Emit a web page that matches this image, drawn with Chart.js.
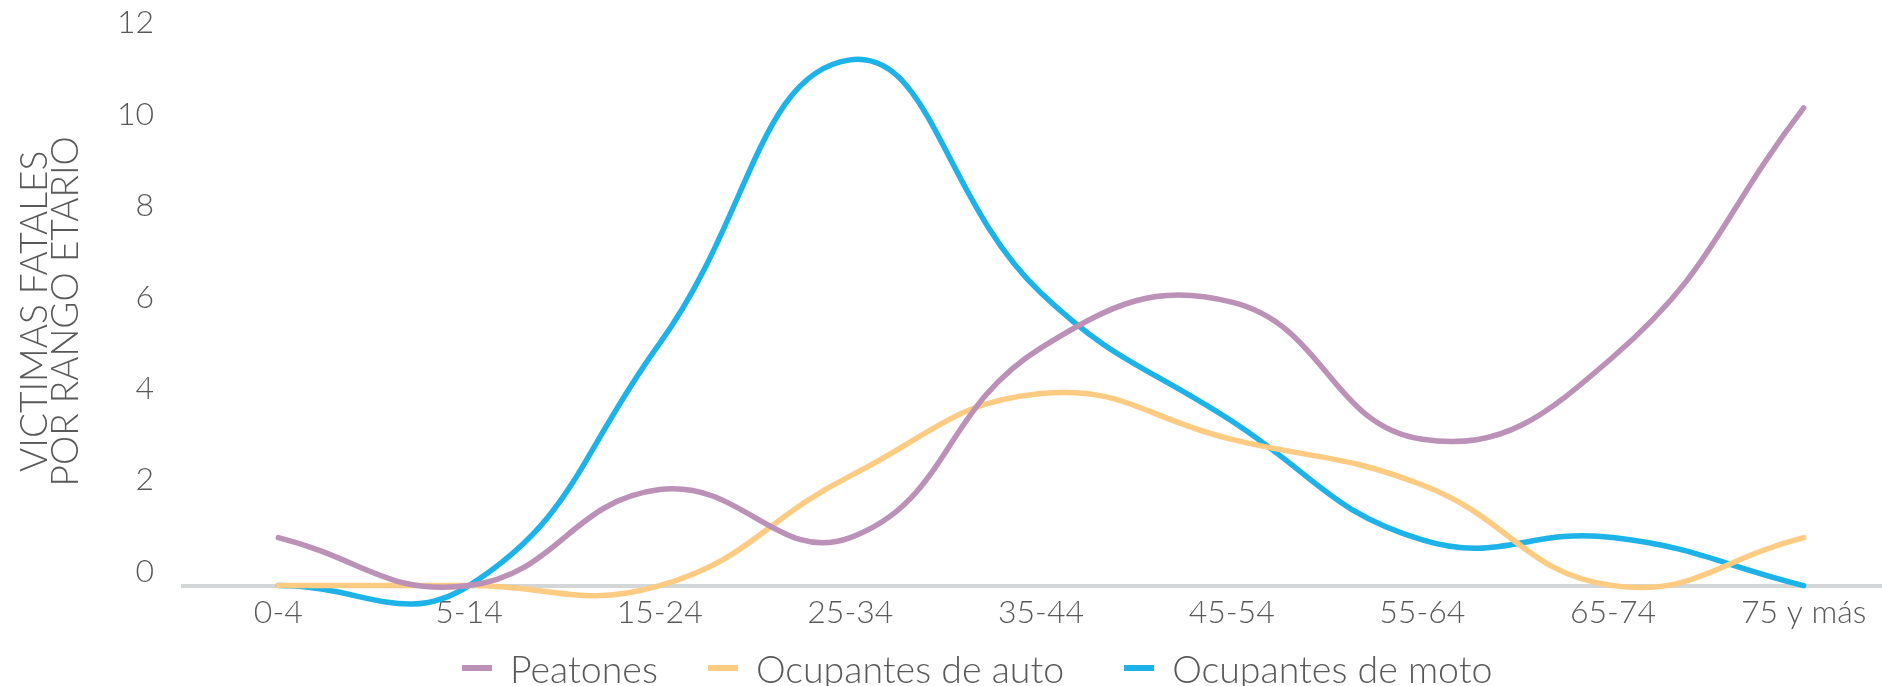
<!DOCTYPE html>
<html>
<head>
<meta charset="utf-8">
<script src="https://cdn.jsdelivr.net/npm/chart.js@4.4.1/dist/chart.umd.min.js"></script>
<style>
  html, body { margin: 0; padding: 0; background: #fff; overflow: hidden; }
  #wrap { position: relative; width: 1882px; height: 686px; overflow: hidden; }
  #leyenda {
    position: absolute; left: 462px; top: 648px; height: 40px;
    display: flex; align-items: center;
    font-family: Lato, sans-serif; font-weight: 300; font-size: 37.5px; color: #595959;
  }
  .item { display: flex; align-items: center; margin-right: 50px; }
  .item:nth-child(2) { margin-right: 60px; }
  .marca { width: 30px; height: 6px; margin-right: 18px; }
</style>
</head>
<body>
<div id="wrap">
  <canvas id="grafica" width="1899" height="686"></canvas>
  <div id="leyenda"></div>
</div>
<script>
const rangos = ['0-4', '5-14', '15-24', '25-34', '35-44', '45-54', '55-64', '65-74', '75 y más'];
const peatones = [1.05, 0, 2.1, 1.05, 5.2, 6.2, 3.2, 5, 10.45];
const autos = [0, 0, 0, 2.4, 4.2, 3.2, 2.2, 0, 1.05];
const motos = [0, 0, 5.3, 11.5, 6.4, 3.6, 1.0, 1.05, 0];
const ticksY = [0, 2, 4, 6, 8, 10, 12];

const colores = ['#bb91b7', '#fecb83', '#1db3e8'];
const nombres = ['Peatones', 'Ocupantes de auto', 'Ocupantes de moto'];
const series = [peatones, autos, motos];

const fuente = 'Lato, sans-serif';

const datasets = series.map((valores, i) => ({
    label: nombres[i],
    data: valores,
    borderColor: colores[i],
    backgroundColor: colores[i],
    borderWidth: 5.5,
    borderCapStyle: 'round',
    pointRadius: 0,
    tension: 0.45,
    capBezierPoints: false,
    clip: false,
    fill: false
}));

const instancia = document.getElementById('grafica').getContext('2d');
const myChart = new Chart(instancia, {
    type: 'line',
    data: { labels: rangos, datasets: datasets },
    options: {
        responsive: false,
        animation: false,
        layout: { padding: { top: 37, right: 0, bottom: 46, left: 0 } },
        plugins: {
            legend: { display: false },
            tooltip: { enabled: false }
        },
        scales: {
            x: {
                offset: true,
                grid: { display: false, drawTicks: false },
                border: { display: true, color: '#d4d7d7', width: 4, z: -1 },
                ticks: {
                    padding: 8,
                    color: '#595959',
                    font: { family: fuente, size: 32, weight: 300 }
                }
            },
            y: {
                min: 0,
                max: 12,
                afterFit: (scale) => {
                    scale.width = 183;
                    scale.paddingTop = 0;
                    scale.paddingBottom = 0;
                },
                afterBuildTicks: (scale) => { scale.ticks = ticksY.map(v => ({ value: v })); },
                grid: { display: false, drawTicks: false },
                border: { display: false },
                ticks: {
                    padding: 29,
                    labelOffset: -14,
                    color: '#595959',
                    font: { family: fuente, size: 32, weight: 300 }
                },
                title: {
                    display: true,
                    text: ['VICTIMAS FATALES', 'POR RANGO ETARIO'],
                    color: '#595959',
                    padding: { top: 20, bottom: 0 },
                    font: { family: fuente, size: 37, weight: 300, lineHeight: 0.83 }
                }
            }
        }
    }
});

// leyenda en html
const leyenda = document.getElementById('leyenda');
nombres.forEach((n, i) => {
    const item = document.createElement('div');
    item.className = 'item';
    const marca = document.createElement('span');
    marca.className = 'marca';
    marca.style.background = colores[i];
    const texto = document.createElement('span');
    texto.textContent = n;
    item.appendChild(marca);
    item.appendChild(texto);
    leyenda.appendChild(item);
});
</script>
</body>
</html>
